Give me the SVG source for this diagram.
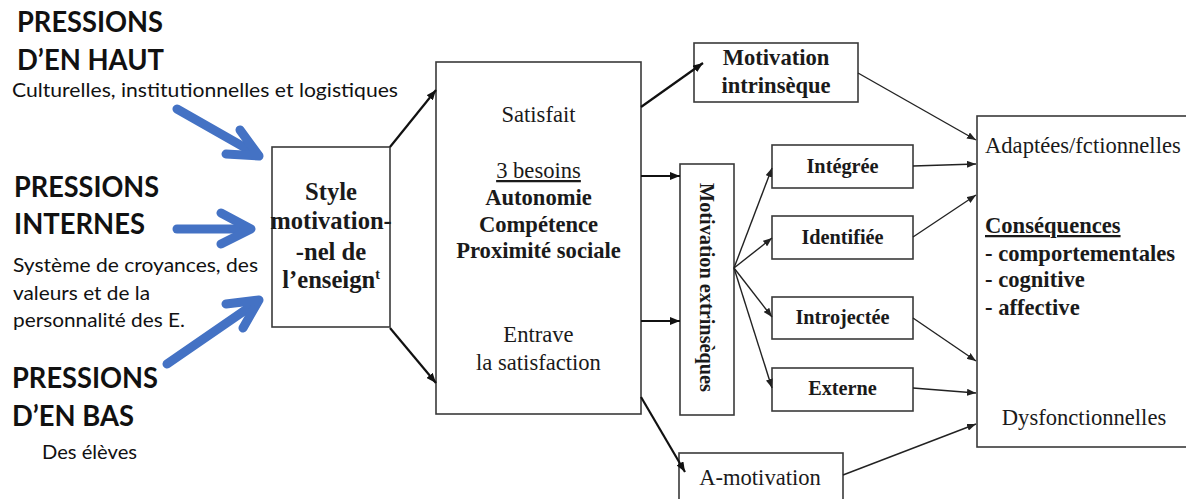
<svg xmlns="http://www.w3.org/2000/svg" width="1186" height="499" viewBox="0 0 1186 499">
<style>
.box{fill:#fff;stroke:#3a3a3a;stroke-width:1.6}
.serif{font-family:"Liberation Serif","Times New Roman",serif;fill:#1a1a1a}
.b{font-weight:bold}
.c{text-anchor:middle}
.sans{font-family:"Lato","Liberation Sans",sans-serif;fill:#111}
.head{font-weight:bold;font-size:28px}
.sub{font-size:20px}
.thick{stroke:#111;stroke-width:2.2;fill:none;marker-end:url(#ah)}
.thin{stroke:#222;stroke-width:1.4;fill:none;marker-end:url(#ahs)}
.blue{stroke:#4472C4;stroke-width:9;fill:none;stroke-linecap:round;stroke-linejoin:round}
</style>
<defs>
<marker id="ah" viewBox="0 0 10 8" refX="10" refY="4" markerWidth="10" markerHeight="8" markerUnits="userSpaceOnUse" orient="auto"><path d="M0,0 L10,4 L0,8 z" fill="#111"/></marker>
<marker id="ahs" viewBox="0 0 9 7" refX="9" refY="3.5" markerWidth="9" markerHeight="7" markerUnits="userSpaceOnUse" orient="auto"><path d="M0,0 L9,3.5 L0,7 z" fill="#222"/></marker>
</defs>
<rect width="1186" height="499" fill="#fff"/>

<g id="pressions-haut" class="sans">
<text class="head" x="17" y="32" textLength="146" lengthAdjust="spacingAndGlyphs">PRESSIONS</text>
<text class="head" x="17" y="70" textLength="147" lengthAdjust="spacingAndGlyphs">D’EN HAUT</text>
<text class="sub" x="12" y="97" textLength="386" lengthAdjust="spacingAndGlyphs">Culturelles, institutionnelles et logistiques</text>
</g>
<g id="pressions-internes" class="sans">
<text class="head" x="14" y="197" textLength="145" lengthAdjust="spacingAndGlyphs">PRESSIONS</text>
<text class="head" x="14" y="234" textLength="131" lengthAdjust="spacingAndGlyphs">INTERNES</text>
<text class="sub" x="13" y="272" textLength="245" lengthAdjust="spacingAndGlyphs">Système de croyances, des</text>
<text class="sub" x="13" y="300" textLength="137" lengthAdjust="spacingAndGlyphs">valeurs et de la</text>
<text class="sub" x="13" y="327" textLength="172" lengthAdjust="spacingAndGlyphs">personnalité des E.</text>
</g>
<g id="pressions-bas" class="sans">
<text class="head" x="12" y="388" textLength="146" lengthAdjust="spacingAndGlyphs">PRESSIONS</text>
<text class="head" x="12" y="426" textLength="122" lengthAdjust="spacingAndGlyphs">D’EN BAS</text>
<text class="sub" x="42" y="459" textLength="95" lengthAdjust="spacingAndGlyphs">Des élèves</text>
</g>

<g id="style">
<rect class="box" x="272" y="147" width="118" height="180"/>
<g class="serif b c" font-size="24.6">
<text x="331" y="200">Style</text>
<text x="331" y="229">motivation-</text>
<text x="331" y="260">-nel de</text>
<text x="331" y="288">l’enseign<tspan font-size="14" dy="-9">t</tspan></text>
</g>
</g>

<g id="besoins">
<rect class="box" x="436" y="62" width="205" height="352"/>
<g class="serif c" font-size="22.6">
<text x="538.5" y="122">Satisfait</text>
<text x="538.5" y="178" text-decoration="underline">3 besoins</text>
<text class="b" x="538.5" y="205">Autonomie</text>
<text class="b" x="538.5" y="232">Compétence</text>
<text class="b" x="538.5" y="258">Proximité sociale</text>
<text x="538.5" y="342">Entrave</text>
<text x="538.5" y="370">la satisfaction</text>
</g>
</g>

<g id="intrinseque">
<rect class="box" x="694" y="43" width="164" height="59"/>
<g class="serif b c" font-size="22.6">
<text x="776" y="65">Motivation</text>
<text x="776" y="93">intrinsèque</text>
</g>
</g>

<g id="extrinseques">
<rect class="box" x="680" y="164" width="54" height="251"/>
<text class="serif b c" font-size="20.3" transform="translate(707,287.5) rotate(90)" y="7">Motivation extrinsèques</text>
</g>

<g id="integree">
<rect class="box" x="772" y="145" width="141" height="43"/>
<text class="serif b c" font-size="20.3" x="842.5" y="173">Intégrée</text>
</g>
<g id="identifiee">
<rect class="box" x="772" y="216" width="141" height="43"/>
<text class="serif b c" font-size="20.3" x="842.5" y="244">Identifiée</text>
</g>
<g id="introjectee">
<rect class="box" x="772" y="297" width="141" height="42"/>
<text class="serif b c" font-size="20.3" x="842.5" y="324">Introjectée</text>
</g>
<g id="externe">
<rect class="box" x="772" y="368" width="141" height="43"/>
<text class="serif b c" font-size="20.3" x="842.5" y="395">Externe</text>
</g>

<g id="amotivation">
<rect class="box" x="679" y="453" width="164" height="50"/>
<text class="serif c" font-size="22.6" x="760" y="485">A-motivation</text>
</g>

<g id="consequences">
<rect class="box" x="977" y="116" width="220" height="331"/>
<g class="serif" font-size="22.6">
<text x="985" y="153">Adaptées/fctionnelles</text>
<text class="b" x="985" y="233" text-decoration="underline">Conséquences</text>
<text class="b" x="985" y="261">- comportementales</text>
<text class="b" x="985" y="287">- cognitive</text>
<text class="b" x="985" y="315">- affective</text>
<text class="c" x="1084" y="425">Dysfonctionnelles</text>
</g>
</g>

<g id="connectors">
<g id="blue-arrows" class="blue">
<path d="M177,109 L258,155"/>
<path d="M240,130 L259,156 L226,154"/>
<path d="M177,229 L249,229"/>
<path d="M221,213 L251,229 L221,244"/>
<path d="M167,364 L257,302"/>
<path d="M226,304 L259,300 L243,328"/>
</g>
<path class="thick" d="M390,147 L436,90"/>
<path class="thick" d="M390,328 L436,383"/>
<path class="thick" d="M641,107 L703,63"/>
<path class="thick" d="M641,176 L680,176"/>
<path class="thick" d="M641,321 L680,321"/>
<path class="thick" d="M641,397 L685,472"/>
<path class="thin" d="M734,268 L772,168"/>
<path class="thin" d="M734,268 L772,238"/>
<path class="thin" d="M734,268 L772,317"/>
<path class="thin" d="M734,268 L772,388"/>
<path class="thin" d="M858,73 L976,140"/>
<path class="thin" d="M913,166 L976,164"/>
<path class="thin" d="M913,237 L976,195"/>
<path class="thin" d="M913,318 L976,361"/>
<path class="thin" d="M913,388 L976,393"/>
<path class="thin" d="M843,475 L976,424"/>
</g>
</svg>
